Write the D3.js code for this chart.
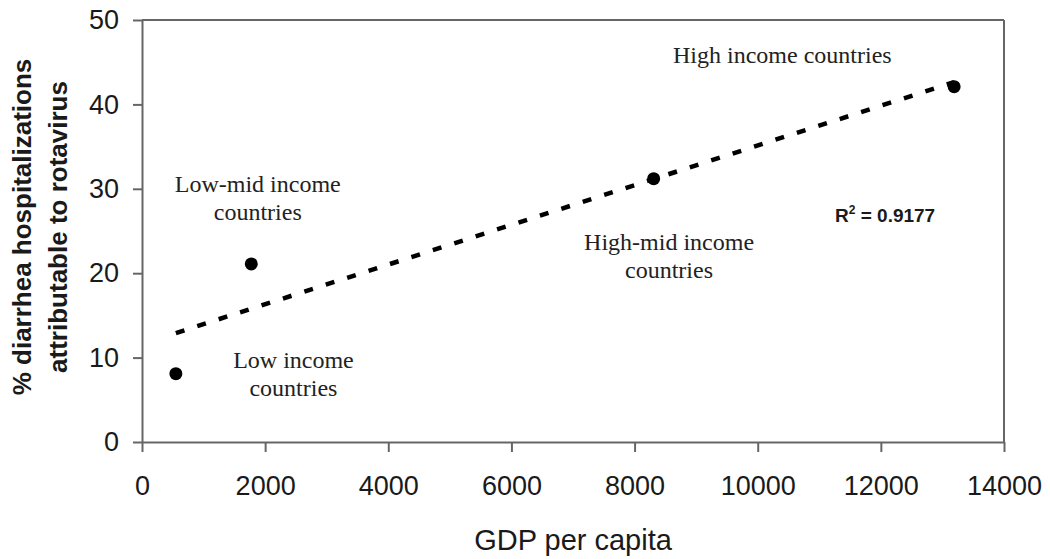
<!DOCTYPE html>
<html>
<head>
<meta charset="utf-8">
<script src="https://cdn.jsdelivr.net/npm/d3@7"></script>
<style>
  html, body { margin: 0; padding: 0; background: #fff; }
  svg { display: block; }
</style>
</head>
<body>
<svg id="chart" width="1050" height="559"></svg>
<script>
// ---------- data ----------
const groups = ["Low income", "Low-mid income", "High-mid income", "High income"];
const gdpPerCapita = [550, 1775, 8310, 13190];
const rotaPercent = [8.1, 21.1, 31.2, 42.1];
const xTicks = [0, 2000, 4000, 6000, 8000, 10000, 12000, 14000];
const yTicks = [0, 10, 20, 30, 40, 50];
const r2Label = "0.9177";

// ---------- layout ----------
const W = 1050, H = 559;
const margin = { top: 20, right: 46, bottom: 117, left: 142 };
const innerW = W - margin.left - margin.right;
const innerH = H - margin.top - margin.bottom;
const axisColor = "#666";

const svg = d3.select("#chart");
const g = svg.append("g").attr("transform", `translate(${margin.left},${margin.top})`);

const x = d3.scaleLinear().domain([0, 14000]).range([0, innerW]);
const y = d3.scaleLinear().domain([0, 50]).range([innerH, 0]);

// frame (top + right)
g.append("line").attr("x1", 0).attr("x2", innerW).attr("y1", 0).attr("y2", 0)
  .attr("stroke", axisColor).attr("stroke-width", 2);
g.append("line").attr("x1", innerW).attr("x2", innerW).attr("y1", 0).attr("y2", innerH)
  .attr("stroke", axisColor).attr("stroke-width", 2);

// axes
const xAxis = g.append("g")
  .attr("transform", `translate(0,${innerH})`)
  .call(d3.axisBottom(x).tickValues(xTicks).tickFormat(d3.format("d")).tickSize(10).tickSizeOuter(0).tickPadding(24));
const yAxis = g.append("g")
  .call(d3.axisLeft(y).tickValues(yTicks).tickSize(9).tickSizeOuter(0).tickPadding(14));

[xAxis, yAxis].forEach((a) => {
  a.select(".domain").attr("stroke", axisColor).attr("stroke-width", 2);
  a.selectAll(".tick line").attr("stroke", axisColor).attr("stroke-width", 2);
  a.selectAll(".tick text")
    .attr("font-family", "Liberation Sans, Arial, sans-serif")
    .attr("font-size", 27)
    .attr("fill", "#1a1a1a");
});

// axis titles
svg.append("text")
  .attr("x", margin.left + x(7000))
  .attr("y", 550)
  .attr("text-anchor", "middle")
  .attr("font-family", "Liberation Sans, Arial, sans-serif")
  .attr("font-size", 29)
  .attr("fill", "#1a1a1a")
  .text("GDP per capita");

const yTitle = svg.append("text")
  .attr("transform", `translate(31,${margin.top + innerH / 2 - 4}) rotate(-90)`)
  .attr("text-anchor", "middle")
  .attr("font-family", "Liberation Sans, Arial, sans-serif")
  .attr("font-size", 26)
  .attr("font-weight", "bold")
  .attr("fill", "#1a1a1a");
yTitle.append("tspan").attr("x", 0).attr("dy", 0).text("% diarrhea hospitalizations");
yTitle.append("tspan").attr("x", 0).attr("dy", 36).text("attributable to rotavirus");

// linear trendline (least squares over the points)
const mx = d3.mean(gdpPerCapita), my = d3.mean(rotaPercent);
const sxy = d3.sum(gdpPerCapita, (v, i) => (v - mx) * (rotaPercent[i] - my));
const sxx = d3.sum(gdpPerCapita, (v) => (v - mx) ** 2);
const slope = sxy / sxx, intercept = my - slope * mx;
const [x0, x1] = d3.extent(gdpPerCapita);

g.append("line")
  .attr("x1", x(x0)).attr("y1", y(intercept + slope * x0))
  .attr("x2", x(x1)).attr("y2", y(intercept + slope * x1))
  .attr("stroke", "#000")
  .attr("stroke-width", 4.5)
  .attr("stroke-dasharray", "9,13.5");

// points
g.selectAll("circle.pt")
  .data(gdpPerCapita.map((v, i) => ({ x: v, y: rotaPercent[i] })))
  .join("circle")
  .attr("class", "pt")
  .attr("cx", (d) => x(d.x))
  .attr("cy", (d) => y(d.y))
  .attr("r", 6.5)
  .attr("fill", "#000");

// group annotations (anchor in data units, two lines except "High income")
const notes = [
  { lines: [groups[3] + " countries"], gx: 10400, gy: 44.9 },
  { lines: [groups[1], "countries"], gx: 1880, gy: 29.6 },
  { lines: [groups[2], "countries"], gx: 8560, gy: 22.7 },
  { lines: [groups[0], "countries"], gx: 2460, gy: 8.8 },
];
notes.forEach((n) => {
  const t = g.append("text")
    .attr("text-anchor", "middle")
    .attr("font-family", "Liberation Serif, Times New Roman, serif")
    .attr("font-size", 24)
    .attr("fill", "#222");
  n.lines.forEach((line, i) => {
    t.append("tspan")
      .attr("x", x(n.gx))
      .attr("y", y(n.gy) + i * 28)
      .text(line);
  });
});

// R² label
const r2 = g.append("text")
  .attr("x", x(11255))
  .attr("y", y(26.1))
  .attr("font-family", "Liberation Sans, Arial, sans-serif")
  .attr("font-size", 19)
  .attr("font-weight", "bold")
  .attr("fill", "#1a1a1a");
r2.append("tspan").text("R");
r2.append("tspan").attr("font-size", 12).attr("dy", -8).text("2");
r2.append("tspan").attr("dy", 8).text(" = " + r2Label);
</script>
</body>
</html>
